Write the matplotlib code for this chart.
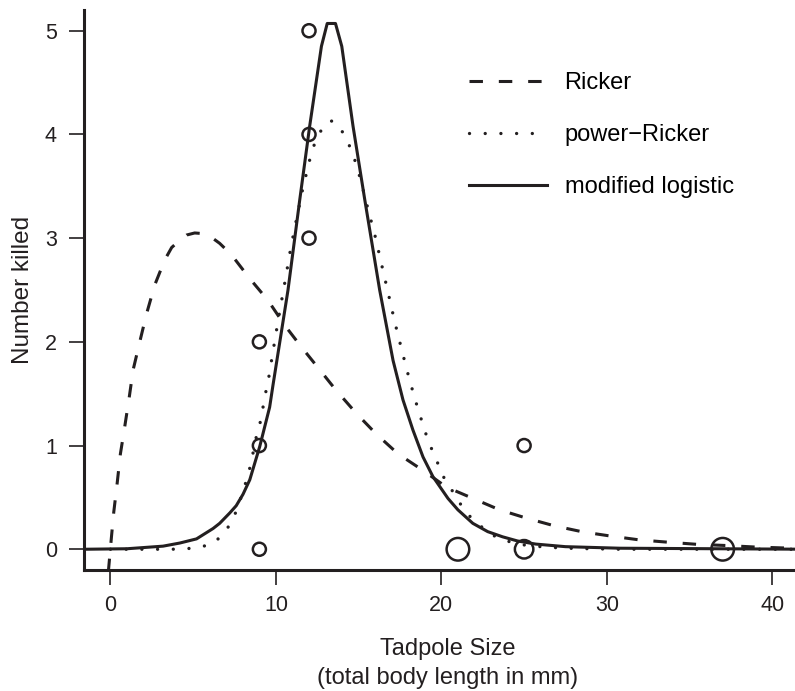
import numpy as np
import matplotlib
matplotlib.use("Agg")
import matplotlib.pyplot as plt

plt.rcParams['font.family'] = ['Liberation Sans', 'DejaVu Sans']

# observed kills (size, number killed, number of overlapping points)
obs_size = [9, 9, 9, 12, 12, 12, 21, 25, 25, 37]
obs_killed = [0, 1, 2, 3, 4, 5, 0, 0, 1, 0]
obs_count = [1, 1, 1, 1, 1, 1, 3, 2, 1, 3]

# fitted curves
ricker_x = [-0.13, 0.06, 0.2, 0.4, 0.6, 0.86, 1.12, 1.37, 1.77, 2.18, 2.68, 3.28, 3.7,
            4.19, 4.6, 5.09, 5.5, 6.0, 6.6, 7.31, 8.42, 9.52, 10.53, 11.54, 12.65, 13.6,
            14.86, 16.07, 17.38, 18.89, 20.3, 21.91, 23.52, 25.14, 26.85, 28.56, 30.2,
            31.98, 33.7, 35.4, 37.22, 38.9, 40.6, 42.4]
ricker_y = [-0.22, 0.12, 0.36, 0.63, 0.92, 1.18, 1.45, 1.73, 2.0, 2.27, 2.55, 2.79, 2.91,
            2.98, 3.03, 3.05, 3.045, 3.02, 2.95, 2.84, 2.61, 2.40, 2.16, 1.95, 1.73, 1.54,
            1.31, 1.11, 0.92, 0.76, 0.60, 0.49, 0.38, 0.30, 0.225, 0.167, 0.128,
            0.09, 0.068, 0.048, 0.036, 0.022, 0.013, 0.009]

pricker_x = [0.0, 0.97, 3.69, 4.59, 5.44, 6.24, 6.9, 7.37, 7.71, 8.25, 8.48, 8.82, 9.06,
             9.22, 9.38, 9.56, 9.99, 10.29, 10.59, 10.89, 11.24, 11.6, 12.0, 12.24, 12.57,
             13.09, 13.4, 13.81, 14.26, 14.6, 14.88, 15.12, 15.55, 16.01, 16.41, 16.8,
             17.2, 17.64, 18.08, 18.57, 19.11, 19.43, 19.78, 20.12, 20.56, 21.05, 21.57,
             22.18, 22.92, 23.72, 24.8, 26.3, 28.0, 30.8, 42.4]
pricker_y = [0.0, 0.0, 0.0, 0.005, 0.02, 0.06, 0.16, 0.28, 0.41, 0.68, 0.82, 1.09, 1.23,
             1.37, 1.51, 1.65, 2.07, 2.35, 2.62, 2.90, 3.18, 3.46, 3.73, 3.87, 4.0,
             4.12, 4.13, 4.08, 3.96, 3.83, 3.70, 3.56, 3.29, 3.01, 2.73, 2.46,
             2.18, 1.90, 1.63, 1.36, 1.09, 0.96, 0.83, 0.70, 0.59, 0.46, 0.34,
             0.25, 0.15, 0.09, 0.045, 0.02, 0.008, 0.0, 0.0]

mlog_x = [-1.6, 1.0, 3.18, 4.19, 5.2, 6.2, 6.6, 7.21, 7.6, 8.01, 8.42, 9.02, 9.62, 9.82,
          10.73, 11.44, 12.04, 12.75, 13.1, 13.6, 13.98, 14.66, 15.37, 16.27, 17.08,
          17.68, 18.28, 18.89, 19.49, 20.4, 21.0, 21.9, 22.8, 23.7, 24.6, 25.7, 27.5,
          30.8, 42.4]
mlog_y = [0.0, 0.005, 0.03, 0.06, 0.10, 0.20, 0.25, 0.35, 0.42, 0.53, 0.67, 0.99, 1.37,
          1.58, 2.50, 3.37, 4.08, 4.85, 5.07, 5.07, 4.85, 4.08, 3.37, 2.50, 1.82,
          1.44, 1.15, 0.89, 0.70, 0.49, 0.38, 0.25, 0.17, 0.12, 0.08, 0.05, 0.025,
          0.01, 0.0]

labels = ['Ricker', 'power\u2212Ricker', 'modified logistic']
xticks = [0, 10, 20, 30, 40]
yticks = [0, 1, 2, 3, 4, 5]

fig = plt.figure(figsize=(7.95, 6.91), dpi=100)
ax = fig.add_axes([84 / 795, 1 - 570 / 691, (812 - 84) / 795, 560 / 691])

ax.plot(ricker_x, ricker_y, color='#231f20', lw=2.2, dashes=(4.4, 5.2),
        dash_capstyle='butt', label=labels[0])
ax.plot(pricker_x, pricker_y, color='#231f20', lw=2.4, dashes=(0.01, 4.7),
        dash_capstyle='round', label=labels[1])
ax.plot(mlog_x, mlog_y, color='#231f20', lw=2.2, label=labels[2])

ms = 9.4 * np.sqrt(np.array(obs_count))
ax.scatter(obs_size, obs_killed, s=ms ** 2, facecolors='none',
           edgecolors='#231f20', linewidths=1.8, zorder=3)

ax.set_xlim(-1.6, 42.4)
ax.set_ylim(-0.2, 5.2)
ax.set_xticks(xticks)
ax.set_yticks(yticks)
for s in ['top', 'right']:
    ax.spines[s].set_visible(False)
for s in ['left', 'bottom']:
    ax.spines[s].set_linewidth(2.2)
    ax.spines[s].set_color('#231f20')
ax.tick_params(axis='both', direction='out', length=11, width=1.2,
               colors='#231f20', labelsize=15.5)
ax.tick_params(axis='x', pad=7)
ax.tick_params(axis='y', pad=8.5)

ax.set_xlabel('Tadpole Size\n(total body length in mm)', fontsize=17,
              linespacing=1.4, labelpad=16, color='#231f20')
ax.set_ylabel('Number killed', fontsize=17.5, labelpad=8, color='#231f20')

ax.legend(loc='upper left', bbox_to_anchor=(469 / 795, 1 - 72 / 691),
          bbox_transform=fig.transFigure, frameon=False, fontsize=17,
          handlelength=3.3, handletextpad=0.75, labelspacing=1.28,
          borderpad=0, borderaxespad=0)

fig.savefig('out.png', dpi=100)
